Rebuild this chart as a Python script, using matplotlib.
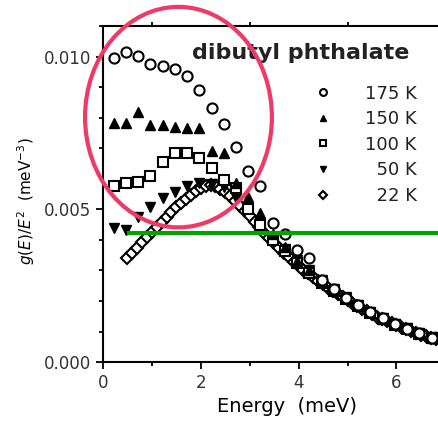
import matplotlib
matplotlib.use("Agg")
import matplotlib.pyplot as plt
from matplotlib.patches import Ellipse
from matplotlib.ticker import MultipleLocator

plt.rcParams['font.family'] = ['DejaVu Sans']
plt.rcParams['mathtext.fontset'] = 'dejavusans'

# energy grid of the 175/150/100/50 K runs (meV)
e_grid = [0.22, 0.47, 0.72, 0.97, 1.22, 1.47, 1.72, 1.97, 2.22, 2.47, 2.72,
          2.97, 3.22, 3.47, 3.72, 3.97, 4.22, 4.47, 4.72, 4.97, 5.22, 5.47,
          5.72, 5.97, 6.22, 6.47, 6.72]

g175 = [0.00997, 0.01016, 0.01003, 0.00977, 0.00971, 0.00958, 0.00935, 0.00892,
        0.00833, 0.00781, 0.00703, 0.00624, 0.00577, 0.00454, 0.00418, 0.00366,
        0.00340, 0.00268, 0.00238, 0.00210, 0.00186, 0.00163, 0.00143, 0.00124,
        0.00109, 0.00094, 0.00080]
g150 = [0.00784, 0.00784, 0.00820, 0.00775, 0.00775, 0.00771, 0.00765, 0.00768,
        0.00690, 0.00683, 0.00585, 0.00540, 0.00487, 0.00420, 0.00376, 0.00330,
        0.00300, 0.00266, 0.00236, 0.00210, 0.00187, 0.00164, 0.00142, 0.00125,
        0.00110, 0.00094, 0.00080]
g100 = [0.00578, 0.00585, 0.00588, 0.00608, 0.00654, 0.00683, 0.00683, 0.00667,
        0.00637, 0.00595, 0.00570, 0.00500, 0.00450, 0.00400, 0.00362, 0.00325,
        0.00292, 0.00260, 0.00233, 0.00207, 0.00183, 0.00161, 0.00140, 0.00122,
        0.00107, 0.00092, 0.00079]
g50 = [0.00438, 0.00431, 0.00474, 0.00507, 0.00536, 0.00556, 0.00578, 0.00585,
       0.00583, 0.00572, 0.00538, 0.00500, 0.00455, 0.00410, 0.00370, 0.00333,
       0.00300, 0.00268, 0.00240, 0.00212, 0.00188, 0.00165, 0.00144, 0.00126,
       0.00110, 0.00095, 0.00081]

# 22 K run, finer grid
e22 = [0.5, 0.6, 0.7, 0.8, 0.9, 1.0, 1.1, 1.2, 1.3, 1.4, 1.5, 1.6, 1.7, 1.8,
       1.9, 2.0, 2.1, 2.2, 2.3, 2.4, 2.5, 2.6, 2.7, 2.8, 2.9, 3.0, 3.1, 3.2,
       3.3, 3.4, 3.5, 3.6, 3.7, 3.8, 3.9, 4.0, 4.1, 4.2, 4.3, 4.4, 4.5, 4.6,
       4.7, 4.8, 4.9, 5.0, 5.1, 5.2, 5.3, 5.4, 5.5, 5.6, 5.7, 5.8, 5.9, 6.0,
       6.1, 6.2, 6.3, 6.4, 6.5, 6.6, 6.7, 6.8]
g22 = [0.00342, 0.00357, 0.00375, 0.00392, 0.00408, 0.00425, 0.00443, 0.00460,
       0.00476, 0.00492, 0.00507, 0.00521, 0.00535, 0.00548, 0.00560, 0.00570,
       0.00577, 0.00579, 0.00575, 0.00567, 0.00556, 0.00543, 0.00528, 0.00512,
       0.00495, 0.00478, 0.00460, 0.00442, 0.00424, 0.00406, 0.00389, 0.00373,
       0.00357, 0.00343, 0.00329, 0.00315, 0.00302, 0.00290, 0.00278, 0.00266,
       0.00255, 0.00244, 0.00233, 0.00223, 0.00213, 0.00203, 0.00193, 0.00184,
       0.00175, 0.00166, 0.00157, 0.00149, 0.00141, 0.00134, 0.00127, 0.00120,
       0.00114, 0.00108, 0.00102, 0.00096, 0.00090, 0.00085, 0.00080, 0.00075]

# green reference level
green_level = 0.00422
green_start = 0.49

fig = plt.figure(figsize=(4.38, 4.21), dpi=100)
ax = fig.add_axes([0.235, 0.140, 0.765, 0.798])

ms = 7.3
mew = 1.5
ax.plot(e22, g22, 'D', ms=6.2, mfc='white', mec='black', mew=mew, ls='none', label='\u200722 K', zorder=3)
ax.plot(e_grid, g50, 'v', ms=ms, color='black', ls='none', label='\u200750 K', zorder=4)
ax.plot(e_grid, g100, 's', ms=6.6, mfc='white', mec='black', mew=mew, ls='none', label='100 K', zorder=4)
ax.plot(e_grid, g150, '^', ms=ms, color='black', ls='none', label='150 K', zorder=4)
ax.plot(e_grid, g175, 'o', ms=ms, mfc='white', mec='black', mew=mew, ls='none', label='175 K', zorder=4)

ax.hlines(green_level, green_start, 7.0, colors='#00A300', lw=3, zorder=5)

ell = Ellipse((1.544, 0.00802), 3.82, 0.00722, fill=False, ec='#EE3A66', lw=3,
              clip_on=False, zorder=6)
ax.add_patch(ell)

ax.set_xlim(0, 6.85)
ax.set_ylim(0, 0.011)
ax.xaxis.set_major_locator(MultipleLocator(2))
ax.xaxis.set_minor_locator(MultipleLocator(1))
ax.yaxis.set_major_locator(MultipleLocator(0.005))
ax.yaxis.set_minor_locator(MultipleLocator(0.001))
ax.yaxis.set_major_formatter(plt.FormatStrFormatter('%.3f'))
ax.spines['right'].set_visible(False)
for s in ['left', 'bottom', 'top']:
    ax.spines[s].set_linewidth(1.5)
ax.tick_params(which='both', direction='out', top=True, width=1.3, labelsize=12,
               labelcolor='#333333')
ax.tick_params(which='major', length=5)
ax.tick_params(which='minor', length=3)
ax.tick_params(axis='x', which='major', top=False)

ax.set_xlabel('Energy  (meV)', fontsize=14)
ax.xaxis.set_label_coords(0.549, -0.104)
ax.set_ylabel('$g(E)/E^2$  (meV$^{-3}$)', fontsize=11)
ax.yaxis.set_label_coords(-0.197, 0.48)

ax.text(0.266, 0.902, 'dibutyl phthalate', transform=ax.transAxes, fontsize=16,
        fontweight='bold', va='baseline', ha='left', color='#222222')

handles, labels = ax.get_legend_handles_labels()
leg = ax.legend(handles[::-1], labels[::-1], loc='upper left', bbox_to_anchor=(0.63, 0.826),
                frameon=False, fontsize=13, handlelength=1.0, handletextpad=1.8,
                labelspacing=0.42, borderpad=0, borderaxespad=0, markerscale=0.68)
for t in leg.get_texts():
    t.set_color('#222222')

fig.savefig('out.png', dpi=100)
